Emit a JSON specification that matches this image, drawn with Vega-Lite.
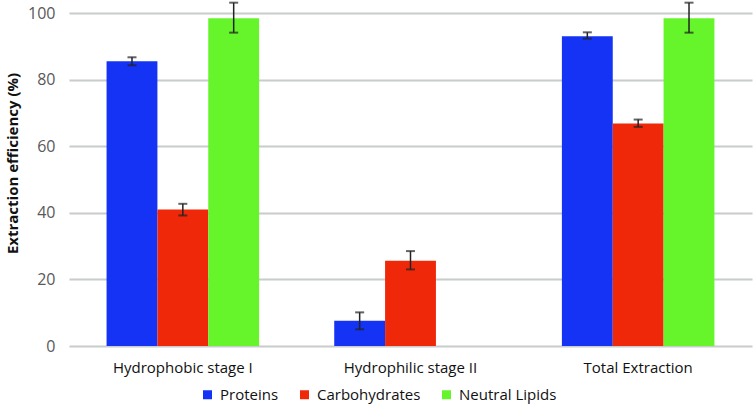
{
  "$schema": "https://vega.github.io/schema/vega-lite/v6.json",
  "width": 683,
  "height": 333,
  "autosize": {"type": "none"},
  "padding": {"left": 69, "top": 13, "right": 4, "bottom": 62},
  "background": "white",
  "config": {"view": {"stroke": null}, "font": "Open Sans"},
  "data": {
    "values": [
      {"stage": "Hydrophobic stage I", "component": "Proteins", "value": 85.5, "lo": 84.3, "hi": 86.7},
      {"stage": "Hydrophobic stage I", "component": "Carbohydrates", "value": 41.0, "lo": 39.2, "hi": 42.7},
      {"stage": "Hydrophobic stage I", "component": "Neutral Lipids", "value": 98.4, "lo": 94.1, "hi": 103.1},
      {"stage": "Hydrophilic stage II", "component": "Proteins", "value": 7.6, "lo": 5.0, "hi": 10.1},
      {"stage": "Hydrophilic stage II", "component": "Carbohydrates", "value": 25.6, "lo": 23.0, "hi": 28.5},
      {"stage": "Total Extraction", "component": "Proteins", "value": 93.0, "lo": 92.3, "hi": 94.2},
      {"stage": "Total Extraction", "component": "Carbohydrates", "value": 66.8, "lo": 65.8, "hi": 68.0},
      {"stage": "Total Extraction", "component": "Neutral Lipids", "value": 98.4, "lo": 94.1, "hi": 103.1}
    ]
  },
  "encoding": {
    "x": {
      "field": "stage", "type": "nominal",
      "sort": ["Hydrophobic stage I", "Hydrophilic stage II", "Total Extraction"],
      "scale": {"paddingInner": 0.33, "paddingOuter": 0.165},
      "axis": {"title": null, "domain": false, "ticks": false, "labelAngle": 0, "labelFontSize": 15, "labelColor": "#111111", "labelPadding": 14}
    },
    "xOffset": {
      "field": "component", "type": "nominal",
      "sort": ["Proteins", "Carbohydrates", "Neutral Lipids"],
      "scale": {"paddingInner": 0, "paddingOuter": 0}
    }
  },
  "layer": [
    {
      "mark": {"type": "bar"},
      "encoding": {
        "y": {
          "field": "value", "type": "quantitative", "title": "Extraction efficiency (%)",
          "scale": {"domain": [0, 100], "nice": false},
          "axis": {
            "values": [0, 20, 40, 60, 80, 100], "domain": false, "ticks": false,
            "grid": true, "gridColor": "#c8cccc", "gridWidth": 2,
            "labelFontSize": 16, "labelColor": "#595959", "labelPadding": 14,
            "titleFontSize": 15, "titleFontWeight": "bold", "titleColor": "#111111",
            "titleX": -57, "titleY": 150, "titleAlign": "center", "titleBaseline": "middle"
          }
        },
        "color": {
          "field": "component", "type": "nominal",
          "sort": ["Proteins", "Carbohydrates", "Neutral Lipids"],
          "scale": {"domain": ["Proteins", "Carbohydrates", "Neutral Lipids"], "range": ["#1433F4", "#EE2808", "#66F52B"]},
          "legend": {
            "orient": "none", "legendX": 131, "legendY": 374, "direction": "horizontal",
            "title": null, "symbolType": "square", "symbolSize": 81, "symbolStrokeWidth": 0,
            "labelFontSize": 15, "labelColor": "#111111", "columnPadding": 18, "labelOffset": 5, "padding": 0
          }
        }
      }
    },
    {
      "mark": {"type": "rule", "color": "#222222", "strokeWidth": 1.5},
      "encoding": {
        "y": {"field": "lo", "type": "quantitative", "title": "Extraction efficiency (%)"},
        "y2": {"field": "hi"}
      }
    },
    {
      "mark": {"type": "tick", "color": "#222222", "thickness": 2, "size": 9},
      "encoding": {"y": {"field": "lo", "type": "quantitative", "title": "Extraction efficiency (%)"}}
    },
    {
      "mark": {"type": "tick", "color": "#222222", "thickness": 2, "size": 9},
      "encoding": {"y": {"field": "hi", "type": "quantitative", "title": "Extraction efficiency (%)"}}
    }
  ]
}
